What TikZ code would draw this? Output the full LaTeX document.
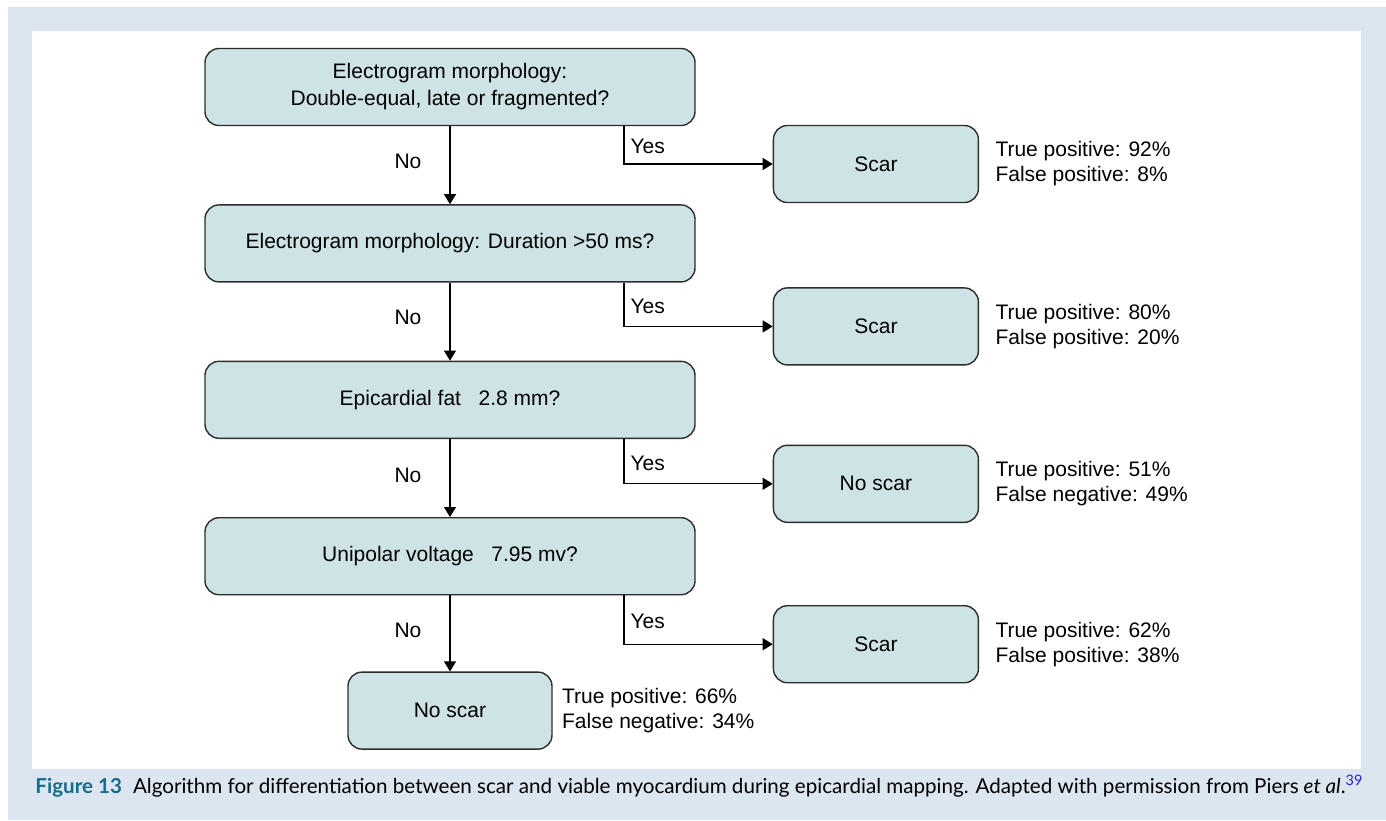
\documentclass[tikz,border=0pt]{standalone}
\usepackage{fontspec}
\setmainfont{Liberation Sans}
\newfontfamily\captionfont{Lato}
\usetikzlibrary{arrows.meta}
\usetikzlibrary{positioning}
\definecolor{pagebg}{RGB}{220,230,240}
\definecolor{boxfill}{RGB}{205,227,230}
\definecolor{boxline}{RGB}{45,45,45}
\definecolor{figteal}{RGB}{22,108,140}
\definecolor{refblue}{RGB}{30,30,240}
\tikzstyle{question} = [rectangle, rounded corners=7pt, minimum width=245pt, minimum height=38.5pt, align=center, draw=boxline, fill=boxfill, line width=0.7pt]
\tikzstyle{result} = [rectangle, rounded corners=7pt, minimum width=102.5pt, minimum height=38.5pt, align=center, draw=boxline, fill=boxfill, line width=0.7pt]
\tikzstyle{stats} = [align=left, inner sep=0pt, font=\fontsize{10.5}{12.5}\selectfont]
\tikzstyle{branch} = [inner sep=2pt]
\tikzstyle{arrow} = [-{Triangle[length=5pt,width=6pt]}, line width=0.6pt, draw=black]

\begin{document}
\begin{tikzpicture}[node distance=39pt, font=\fontsize{10.5}{13.5}\selectfont]

  % Page background and white panel
  \fill[pagebg] (4pt,-3.5pt) rectangle (693pt,-410pt);
  \fill[white] (16pt,-15.5pt) rectangle (680.5pt,-384.5pt);
  \useasboundingbox (0,0) rectangle (693pt,-410pt);

  % We start by placing the questions
  \node (morph) [question] at (225pt,-43.5pt) {Electrogram morphology:\\Double-equal, late or fragmented?};
  \node (duration) [question, below=of morph] {Electrogram morphology: Duration >50 ms?};
  \node (fat) [question, below=of duration] {Epicardial fat\ \ \ 2.8 mm?};
  \node (voltage) [question, below=of fat] {Unipolar voltage\ \ \ 7.95 mv?};
  \node (noscar_end) [result, minimum width=102pt, below=38pt of voltage] {No scar};

  % Then the outcomes on the right
  \node (scar_morph) [result, right=38.5pt of morph, yshift=-38.5pt] {Scar};
  \node (scar_duration) [result, right=38.5pt of duration, yshift=-41.5pt] {Scar};
  \node (noscar_fat) [result, right=38.5pt of fat, yshift=-42pt] {No scar};
  \node (scar_voltage) [result, right=38.5pt of voltage, yshift=-44pt] {Scar};

  \node (stats_morph) [stats, right=8pt of scar_morph] {True positive: 92\%\\False positive: 8\%};
  \node (stats_duration) [stats, right=8pt of scar_duration] {True positive: 80\%\\False positive: 20\%};
  \node (stats_fat) [stats, right=8pt of noscar_fat] {True positive: 51\%\\False negative: 49\%};
  \node (stats_voltage) [stats, right=8pt of scar_voltage] {True positive: 62\%\\False positive: 38\%};
  \node (stats_end) [stats, right=4.5pt of noscar_end] {True positive: 66\%\\False negative: 34\%};

  % Draw the connections between blocks
  \draw [arrow] (morph) -- node[branch, pos=0.45, left=12pt] {No} (duration);
  \draw [arrow] (duration) -- node[branch, pos=0.45, left=12pt] {No} (fat);
  \draw [arrow] (fat) -- node[branch, pos=0.47, left=12pt] {No} (voltage);
  \draw [arrow] (voltage) -- node[branch, pos=0.46, left=12pt] {No} (noscar_end);
  \draw [arrow] ([xshift=87pt]morph.south) |- node[branch, pos=0.27, right=1pt] {Yes} (scar_morph.west);
  \draw [arrow] ([xshift=87pt]duration.south) |- node[branch, pos=0.27, right=1pt] {Yes} (scar_duration.west);
  \draw [arrow] ([xshift=87pt]fat.south) |- node[branch, pos=0.27, right=1pt] {Yes} (noscar_fat.west);
  \draw [arrow] ([xshift=87pt]voltage.south) |- node[branch, pos=0.27, right=1pt] {Yes} (scar_voltage.west);

  % Caption
  \node (caption) [anchor=base west, inner sep=0pt, font=\captionfont\fontsize{10.3}{13}\selectfont] at (17.5pt,-396.5pt) {\textcolor{figteal}{\bfseries Figure 13}\hspace{5.5pt}Algorithm for differentiation between scar and viable myocardium during epicardial mapping. Adapted with permission from Piers \textit{et al}.\textsuperscript{\textcolor{refblue}{39}}};

\end{tikzpicture}
\end{document}
